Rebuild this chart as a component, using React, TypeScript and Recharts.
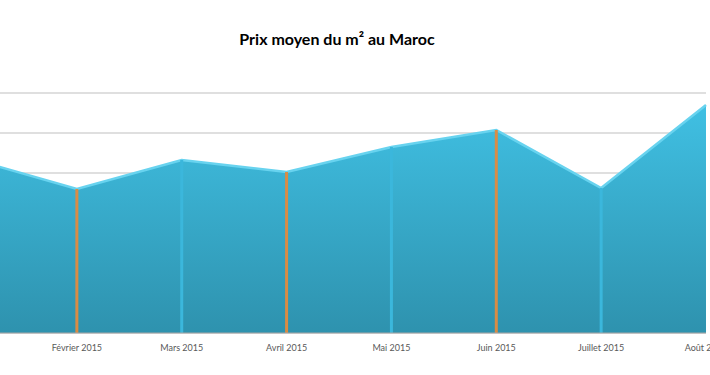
import { AreaChart, Area, XAxis, YAxis, CartesianGrid, ReferenceLine } from "recharts";

const months = [
  "Janvier 2015", "Février 2015", "Mars 2015", "Avril 2015",
  "Mai 2015", "Juin 2015", "Juillet 2015", "Août 2015",
];
const prices = [8700, 7200, 8650, 8050, 9300, 10150, 7250, 11400];
const yTicks = [0, 2000, 4000, 6000, 8000, 10000, 12000];

const data = months.map((m, i) => ({ month: m, prix: prices[i] }));

// drop lines under each point: orange / blue alternating, none at the ends
const dropColor = (i: number) => {
  if (i === 0 || i === months.length - 1) return null;
  return i % 2 === 1 ? "#d98c45" : "#3bb7dc";
};

export default function App() {
  return (
    <div style={{ position: "absolute", left: 0, top: 0, width: 710, height: 375, overflow: "hidden", background: "#fff" }}>
      <div
        style={{
          position: "absolute", left: 0, top: 29, width: 674, textAlign: "center",
          fontFamily: "Lato, 'Open Sans', sans-serif", fontWeight: 700, fontSize: 16, color: "#000",
        }}
      >
        Prix moyen du m² au Maroc
      </div>
      <div style={{ position: "absolute", left: -40, top: 0 }}>
        <AreaChart width={760} height={375} data={data} margin={{ top: 93, right: 14, bottom: 12, left: 12 }}>
          <defs>
            <linearGradient id="fillBlue" x1="0" y1="0" x2="0" y2="1">
              <stop offset="0%" stopColor="#40c0e3" />
              <stop offset="100%" stopColor="#2e92ae" />
            </linearGradient>
          </defs>
          <CartesianGrid vertical={false} stroke="#bfbfbf" />
          <XAxis
            dataKey="month"
            interval={0}
            tickLine={false}
            axisLine={{ stroke: "#a6a6a6" }}
            tickMargin={6}
            height={30}
            tick={{ fontSize: 9, fill: "#595959", fontFamily: "Lato, sans-serif" }}
          />
          <YAxis hide domain={[0, 12000]} ticks={yTicks} />
          <Area
            type="linear"
            dataKey="prix"
            stroke="#68d3ef"
            strokeWidth={2.5}
            fill="url(#fillBlue)"
            fillOpacity={1}
            dot={false}
            activeDot={false}
            isAnimationActive={false}
          />
          {data.map((d, i) => {
            const c = dropColor(i);
            if (!c) return null;
            return (
              <ReferenceLine
                key={d.month}
                segment={[{ x: d.month, y: 0 }, { x: d.month, y: d.prix }]}
                stroke={c}
                strokeWidth={3}
              />
            );
          })}
        </AreaChart>
      </div>
    </div>
  );
}
